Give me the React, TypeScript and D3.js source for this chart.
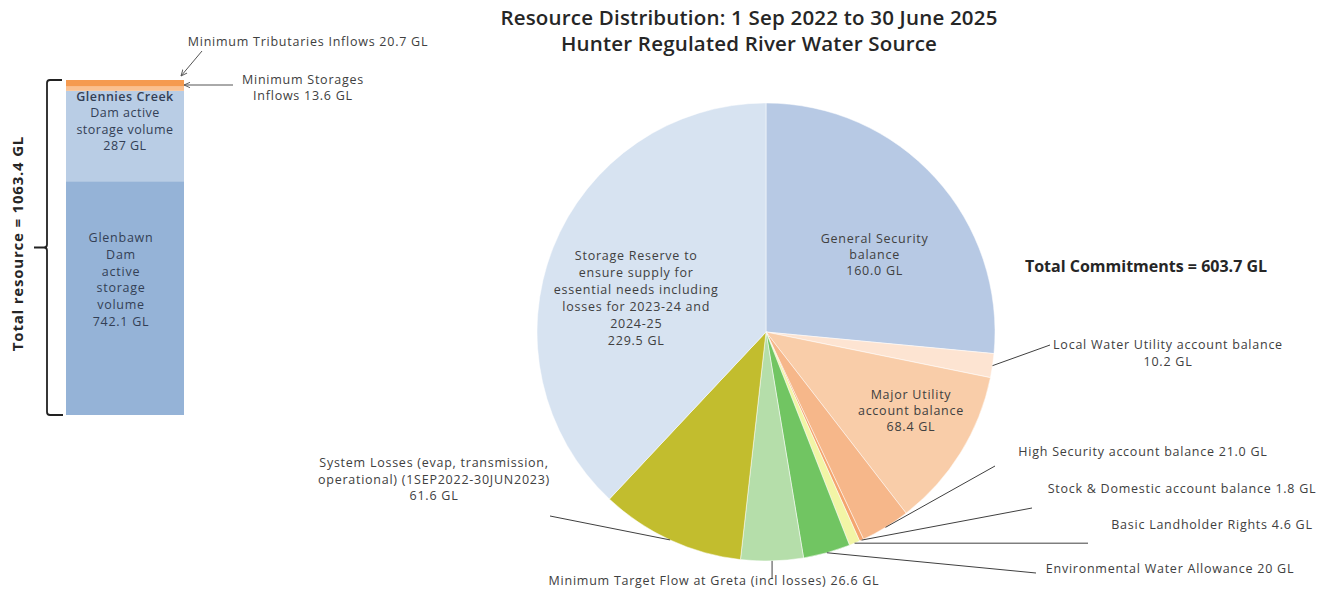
import React from "react";
import * as d3 from "d3";

// ---------- DATA ----------
const pieCategories = [
  "General Security balance",
  "Local Water Utility account balance",
  "Major Utility account balance",
  "High Security account balance",
  "Stock & Domestic account balance",
  "Basic Landholder Rights",
  "Environmental Water Allowance",
  "Minimum Target Flow at Greta (incl losses)",
  "System Losses",
  "Storage Reserve",
];
const pieValues = [160.0, 10.2, 68.4, 21.0, 1.8, 4.6, 20, 26.6, 61.6, 229.5];
const pieValueLabels = ["160.0 GL", "10.2 GL", "68.4 GL", "21.0 GL", "1.8 GL", "4.6 GL", "20 GL", "26.6 GL", "61.6 GL", "229.5 GL"];

const barCategories = [
  "Glenbawn Dam active storage volume",
  "Glennies Creek Dam active storage volume",
  "Minimum Storages Inflows",
  "Minimum Tributaries Inflows",
];
const barValues = [742.1, 287, 13.6, 20.7];
const totalResource = 1063.4;
const totalCommitments = 603.7;

const titleLines = [
  "Resource Distribution: 1 Sep 2022 to 30 June 2025",
  "Hunter Regulated River Water Source",
];

// ---------- STYLES ----------
const pieColors = [
  "#b7c9e4", "#fde4d2", "#f9cda9", "#f6b78a", "#f4a56f",
  "#f2f5a6", "#71c562", "#b5deaa", "#c2bd2e", "#d7e3f1",
];
const barColors = ["#95b3d7", "#b9cde5", "#fac08f", "#f59a4f"];
const FONT = "'Open Sans', 'Liberation Sans', Arial, sans-serif";
const LABEL = "#404040";
const FS = 12.5;
const LS = 0.75;

export default function App() {
  const W = 1335, H = 595;
  const cx = 766, cy = 332, R = 229;

  const pie = d3.pie<number>().sort(null).value((d) => d)(pieValues);
  const arc = d3.arc<d3.PieArcDatum<number>>().innerRadius(0).outerRadius(R);
  const edge = (d: d3.PieArcDatum<number>, r: number) => {
    const a = (d.startAngle + d.endAngle) / 2;
    return [r * Math.sin(a), -r * Math.cos(a)];
  };

  // bar
  const y = d3.scaleLinear().domain([0, totalResource]).range([415, 80]);
  const barX = 66, barW = 118;
  const stacked: { y0: number; y1: number }[] = [];
  let acc = 0;
  barValues.forEach((v) => { stacked.push({ y0: acc, y1: acc + v }); acc += v; });

  const fmt = (v: number) => v.toFixed(1);

  // inner labels: [index, radius factor, dx, dy, line height, lines]
  const inner: [number, number, number, number, number, string[]][] = [
    [0, 0.6, 7, 15, 16, ["General Security", "balance", pieValueLabels[0]]],
    [9, 0.6, -2, 17, 17, ["Storage Reserve to", "ensure supply for", "essential needs including", "losses for 2023-24 and", "2024-25", pieValueLabels[9]]],
    [2, 0.72, 5, -8, 16, ["Major Utility", "account balance", pieValueLabels[2]]],
  ];

  const outer: { i: number; pts: [number, number][]; lines: string[]; tx: number; ty: number }[] = [
    { i: 1, pts: [[1050, 345]], lines: ["Local Water Utility account balance", pieValueLabels[1]], tx: 1168, ty: 349 },
    { i: 3, pts: [[995, 466]], lines: [`High Security account balance ${pieValueLabels[3]}`], tx: 1143, ty: 456 },
    { i: 4, pts: [[1032, 508]], lines: [`Stock & Domestic account balance ${pieValueLabels[4]}`], tx: 1182, ty: 493 },
    { i: 5, pts: [[1088, 0]], lines: [`Basic Landholder Rights ${pieValueLabels[5]}`], tx: 1212, ty: 529 },
    { i: 6, pts: [[1036, 573]], lines: [`Environmental Water Allowance ${pieValueLabels[6]}`], tx: 1170, ty: 573 },
    { i: 7, pts: [[0, 578]], lines: [`Minimum Target Flow at Greta (incl losses) ${pieValueLabels[7]}`], tx: 714, ty: 585 },
    { i: 8, pts: [[550, 516]], lines: ["System Losses (evap, transmission,", "operational) (1SEP2022-30JUN2023)", pieValueLabels[8]], tx: 434, ty: 467 },
  ];

  return (
    <svg width={W} height={H} style={{ position: "absolute", left: 0, top: 0, background: "#fff" }} fontFamily={FONT}>
      {/* Title */}
      {titleLines.map((t, k) => (
        <text key={k} x={749} y={25 + k * 26} textAnchor="middle" fontSize={20.5} fontWeight={600} letterSpacing={0.2} fill="#262626">{t}</text>
      ))}

      {/* Pie */}
      <g transform={`translate(${cx},${cy})`}>
        {pie.map((d, i) => (
          <path key={pieCategories[i]} d={arc(d) || ""} fill={pieColors[i]} stroke="#fff" strokeWidth={0.5} />
        ))}
        {inner.map(([i, f, dx, dy, lh, lines]) => {
          const [lx, ly] = edge(pie[i], R * f);
          const start = ly - ((lines.length - 1) * lh) / 2 + 4 + dy;
          return (
            <text key={i} textAnchor="middle" fontSize={FS} letterSpacing={LS} fill={LABEL}>
              {lines.map((l, k) => (
                <tspan key={k} x={lx + dx} y={start + k * lh}>{l}</tspan>
              ))}
            </text>
          );
        })}
      </g>

      {/* outer labels and leaders */}
      {outer.map((o) => {
        const [ex, ey] = edge(pie[o.i], R);
        const sx = cx + ex, sy = cy + ey;
        const pts = o.pts.map(([px, py]) => [px === 0 ? sx : px, py === 0 ? sy : py]);
        const line = d3.line()([[sx, sy], ...pts] as [number, number][]) || "";
        return (
          <g key={o.i}>
            <path d={line} fill="none" stroke="#404040" strokeWidth={1} />
            <text textAnchor="middle" fontSize={FS} letterSpacing={LS} fill={LABEL}>
              {o.lines.map((l, k) => (
                <tspan key={k} x={o.tx} y={o.ty + k * 16.5}>{l}</tspan>
              ))}
            </text>
          </g>
        );
      })}

      <text x={1146} y={272} textAnchor="middle" fontSize={16} fontWeight={700} fill="#262626">
        {`Total Commitments = ${fmt(totalCommitments)} GL`}
      </text>

      {/* Stacked bar */}
      {stacked.map((s, i) => (
        <rect key={barCategories[i]} x={barX} width={barW} y={y(s.y1)} height={y(s.y0) - y(s.y1)} fill={barColors[i]} />
      ))}
      <text textAnchor="middle" fontSize={FS} letterSpacing={0.5} fill="#333f55">
        {["Glennies Creek", "Dam active", "storage volume", `${barValues[1]} GL`].map((l, k) => (
          <tspan key={k} x={barX + barW / 2} y={101 + k * 16.3} fontWeight={k === 0 ? 600 : 400}>{l}</tspan>
        ))}
      </text>
      <text textAnchor="middle" fontSize={FS} letterSpacing={LS} fill="#333f55">
        {["Glenbawn", "Dam", "active", "storage", "volume", `${fmt(barValues[0])} GL`].map((l, k) => (
          <tspan key={k} x={barX + barW / 2 - 4} y={242 + k * 16.8}>{l}</tspan>
        ))}
      </text>

      {/* Bracket */}
      <path
        d={`M62,${y(totalResource)} L50,${y(totalResource)} Q47,${y(totalResource)} 47,${y(totalResource) + 3} L47,${y(totalResource / 2) - 3} Q47,${y(totalResource / 2)} 44,${y(totalResource / 2)} L34,${y(totalResource / 2)} M44,${y(totalResource / 2)} Q47,${y(totalResource / 2)} 47,${y(totalResource / 2) + 3} L47,${y(0) - 3} Q47,${y(0)} 50,${y(0)} L63,${y(0)}`}
        fill="none" stroke="#222" strokeWidth={1.8}
      />
      <text transform={`translate(23,${y(totalResource / 2) - 4}) rotate(-90)`} textAnchor="middle" fontSize={15} fontWeight={700} letterSpacing={0.8} fill="#262626">
        {`Total resource = ${fmt(totalResource)} GL`}
      </text>

      {/* Bar annotations */}
      <defs>
        <marker id="arr" viewBox="0 0 10 10" refX={9} refY={5} markerWidth={7} markerHeight={7} orient="auto-start-reverse">
          <path d="M0,1 L9,5 L0,9" fill="none" stroke="#555" strokeWidth={1.3} />
        </marker>
      </defs>
      <text x={308} y={46} textAnchor="middle" fontSize={FS} letterSpacing={LS} fill={LABEL}>{`Minimum Tributaries Inflows  ${barValues[3]} GL`}</text>
      <line x1={202} y1={51} x2={181} y2={y(totalResource) - 4} stroke="#555" strokeWidth={1} markerEnd="url(#arr)" />
      <text textAnchor="middle" fontSize={FS} letterSpacing={LS} fill={LABEL}>
        <tspan x={303} y={84}>Minimum Storages</tspan>
        <tspan x={303} y={100}>{`Inflows  ${barValues[2]} GL`}</tspan>
      </text>
      <line x1={233} y1={85} x2={184} y2={85} stroke="#555" strokeWidth={1} markerEnd="url(#arr)" />
    </svg>
  );
}
